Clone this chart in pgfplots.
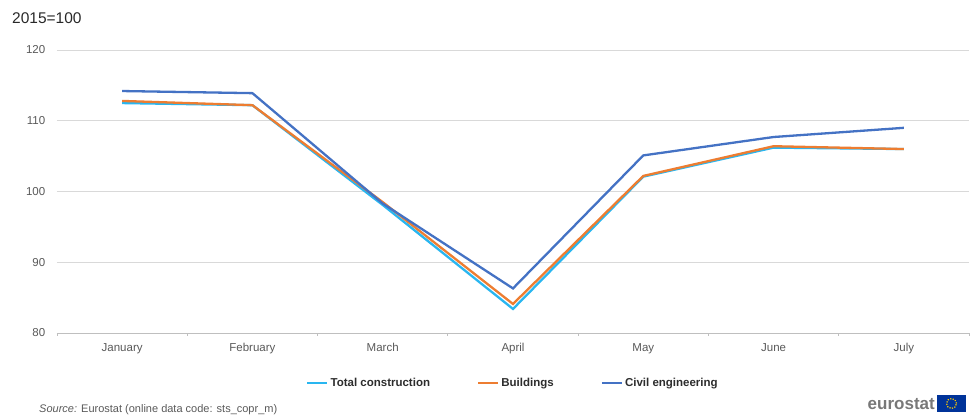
\documentclass[border=0pt]{standalone}
\usepackage{pgfplots}
\pgfplotsset{compat=1.18}
\usepackage{fontspec}
\setmainfont{Liberation Sans}
\definecolor{ctot}{RGB}{41,182,240}
\definecolor{cbld}{RGB}{237,125,49}
\definecolor{civ}{RGB}{68,114,196}
\definecolor{tgrey}{RGB}{89,89,89}
\definecolor{lgrey}{RGB}{217,217,217}
\definecolor{agrey}{RGB}{191,191,191}
\definecolor{euro}{RGB}{0,51,153}
\definecolor{estar}{RGB}{255,204,0}
\pgfplotstableread{
x tot bld civ
0 112.5 112.8 114.2
1 112.2 112.2 113.9
2 98.1 98.5 98.3
3 83.4 84.1 86.3
4 102.1 102.2 105.1
5 106.2 106.4 107.7
6 106.0 106.0 109.0
}\datatab
\begin{document}
\begin{tikzpicture}
\useasboundingbox (0pt,0pt) rectangle (978pt,419pt);
\begin{axis}[
  at={(57pt,86pt)}, anchor=south west,
  scale only axis, width=912pt, height=283pt,
  xmin=-0.5, xmax=6.5, ymin=80, ymax=120,
  axis x line*=bottom,
  axis y line*=left,
  x axis line style={agrey, line width=0.8pt, -},
  y axis line style={draw=none},
  xtick={0,...,6},
  xticklabels={January,February,March,April,May,June,July},
  major x tick style={draw=none},
  major y tick style={draw=none},
  minor xtick={-0.5,0.5,...,6.5},
  minor tick length=3pt,
  minor x tick style={agrey, line width=0.8pt},
  tick align=outside,
  ytick={80,90,...,120},
  ymajorgrids, major grid style={lgrey, line width=0.8pt},
  /pgf/number format/assume math mode=true,
  ticklabel style={font=\fontsize{11.5}{13}\selectfont, text=tgrey},
  xticklabel style={yshift=-2pt, text height=8.5pt, text depth=2.5pt},
  yticklabel style={xshift=-4pt},
  legend style={at={(0.5,-0.177)}, anchor=center, draw=none, fill=none,
    legend columns=3, font=\fontsize{11.5}{13}\selectfont\bfseries, text={rgb,255:red,45;green,45;blue,45},
    /tikz/every even column/.append style={column sep=45pt}},
  legend image code/.code={\draw[#1] (0pt,0pt) -- (20pt,0pt);},
  clip=false,
]
\addplot[ctot, line width=2.3pt] table[x=x,y=tot]{\datatab};
\addlegendentry{Total construction}
\addplot[cbld, line width=2.3pt] table[x=x,y=bld]{\datatab};
\addlegendentry{Buildings}
\addplot[civ, line width=2.3pt] table[x=x,y=civ]{\datatab};
\addlegendentry{Civil engineering}
\end{axis}
\node[anchor=west, font=\fontsize{15.5}{17}\selectfont, text={rgb,255:red,40;green,40;blue,40}, inner sep=0pt] at (12pt,401pt) {2015=100};
\node[anchor=west, font=\fontsize{11}{13}\selectfont, text=tgrey, inner sep=0pt] at (39pt,9pt) {\textit{Source:} Eurostat (online data code: sts\_copr\_m)};
\node[anchor=east, font=\fontsize{17}{19}\selectfont\bfseries, text={rgb,255:red,120;green,120;blue,120}, inner sep=0pt] at (935pt,15pt) {eurostat};
\fill[euro] (937pt,7pt) rectangle (966pt,24pt);
\draw[estar, line width=1.2pt, dash pattern=on 1.2pt off 1.4pt] (951.5pt,15.5pt) circle (5pt);
\end{tikzpicture}
\end{document}
